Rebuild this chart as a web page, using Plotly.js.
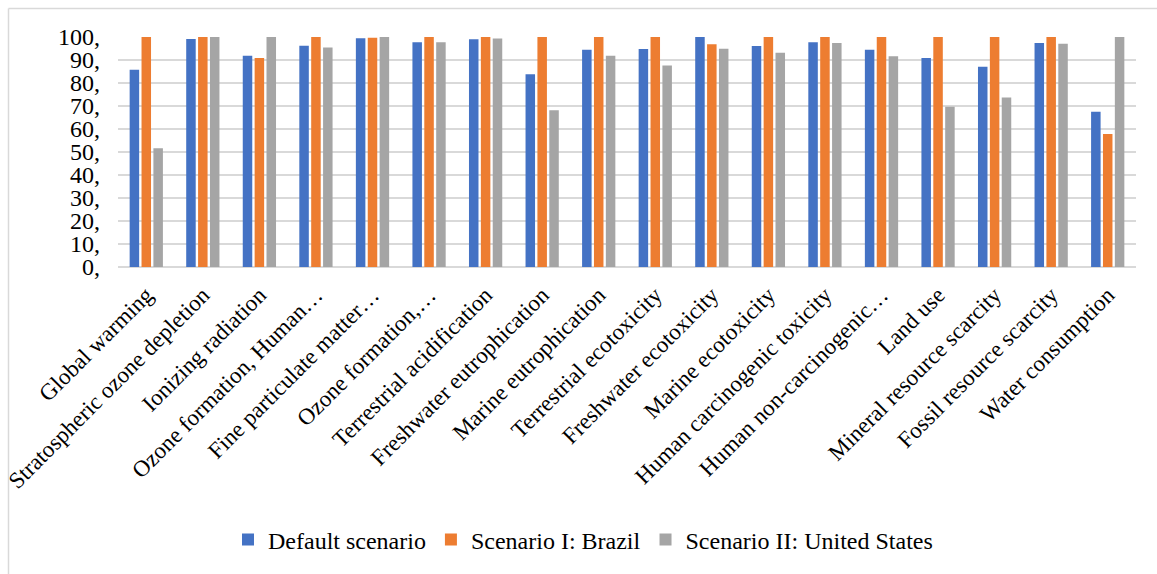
<!DOCTYPE html>
<html>
<head>
<meta charset="utf-8">
<script src="https://cdn.plot.ly/plotly-3.0.1.min.js"></script>
<style>
  html, body { margin: 0; padding: 0; background: #ffffff; }
  #chart { width: 1157px; height: 574px; }
  /* all chart text in Times-style serif */
  #chart svg text { font-family: "Liberation Serif", "Times New Roman", serif !important; }
</style>
</head>
<body>
<div id="chart"></div>
<script>
// Impact categories (axis labels as printed, long ones shortened with an ellipsis)
const categories = [
  "Global warming",
  "Stratospheric ozone depletion",
  "Ionizing radiation",
  "Ozone formation, Human…",
  "Fine particulate matter…",
  "Ozone formation,…",
  "Terrestrial acidification",
  "Freshwater eutrophication",
  "Marine eutrophication",
  "Terrestrial ecotoxicity",
  "Freshwater ecotoxicity",
  "Marine ecotoxicity",
  "Human carcinogenic toxicity",
  "Human non-carcinogenic…",
  "Land use",
  "Mineral resource scarcity",
  "Fossil resource scarcity",
  "Water consumption"
];

// Relative impact per scenario (%, highest scenario = 100)
const defaultScenario = [85.8, 99.1, 91.8, 96.2, 99.5, 97.7, 99.0, 83.8, 94.5, 94.8, 100, 96.1, 97.7, 94.5, 90.9, 87.1, 97.4, 67.5];
const scenarioBrazil  = [100, 100, 90.9, 100, 99.7, 100, 100, 100, 100, 100, 96.8, 100, 100, 100, 100, 100, 100, 57.8];
const scenarioUS      = [51.6, 100, 100, 95.4, 100, 97.7, 99.4, 68.2, 91.8, 87.6, 94.9, 93.1, 97.4, 91.6, 69.7, 73.7, 97.1, 100];

const seriesNames = ["Default scenario", "Scenario I: Brazil", "Scenario II: United States"];
const seriesColors = ["#4472C4", "#ED7D31", "#A5A5A5"];
const yTickValues = [0, 10, 20, 30, 40, 50, 60, 70, 80, 90, 100];
const yTickLabels = ["0,", "10,", "20,", "30,", "40,", "50,", "60,", "70,", "80,", "90,", "100,"];

const textFamily = "Liberation Serif";

const traces = [defaultScenario, scenarioBrazil, scenarioUS].map((vals, i) => ({
  type: "bar",
  name: seriesNames[i],
  x: categories,
  y: vals,
  marker: { color: seriesColors[i] },
  hoverinfo: "x+y+name"
}));

// Plot-area geometry, used to place the frame lines and the legend
const pageW = 1157, pageH = 574;
const margins = { l: 118, r: 21, t: 37, b: 307 };
const plotW = pageW - margins.l - margins.r;
const plotH = pageH - margins.t - margins.b;
const toPaperX = x => (x - margins.l) / plotW;
const toPaperY = y => (pageH - margins.b - y) / plotH;

const layout = {
  width: pageW,
  height: pageH,
  margin: margins,
  paper_bgcolor: "#ffffff",
  plot_bgcolor: "#ffffff",
  barmode: "group",
  bargap: 0.37,
  bargroupgap: 0.2,
  font: { family: textFamily, color: "#000000", size: 23 },
  xaxis: {
    type: "category",
    tickangle: -45,
    tickfont: { family: textFamily, size: 23, color: "#000000" },
    showgrid: false,
    showline: false,
    ticks: "",
    ticklabelstandoff: 9,
    automargin: false
  },
  yaxis: {
    range: [0, 100],
    tickmode: "array",
    tickvals: yTickValues,
    ticktext: yTickLabels,
    tickfont: { family: textFamily, size: 24, color: "#000000" },
    showgrid: true,
    gridcolor: "#D9D9D9",
    gridwidth: 1.5,
    zeroline: true,
    zerolinecolor: "#D9D9D9",
    zerolinewidth: 1.5,
    showline: false,
    ticks: "",
    ticklabelstandoff: 17,
    automargin: false
  },
  legend: {
    orientation: "h",
    x: toPaperX(583),
    xanchor: "center",
    y: toPaperY(540),
    yanchor: "middle",
    font: { family: textFamily, size: 24, color: "#000000" },
    bgcolor: "rgba(0,0,0,0)",
    traceorder: "normal"
  },
  shapes: [
    // chart frame: top and left edges
    { type: "line", xref: "paper", yref: "paper",
      x0: toPaperX(8.5), x1: toPaperX(1200), y0: toPaperY(8.5), y1: toPaperY(8.5),
      line: { color: "#D9D9D9", width: 1.5 } },
    { type: "line", xref: "paper", yref: "paper",
      x0: toPaperX(8.5), x1: toPaperX(8.5), y0: toPaperY(8.5), y1: toPaperY(600),
      line: { color: "#D9D9D9", width: 1.5 } }
  ],
  showlegend: true
};

Plotly.newPlot("chart", traces, layout, { displayModeBar: false, staticPlot: true });
</script>
</body>
</html>
